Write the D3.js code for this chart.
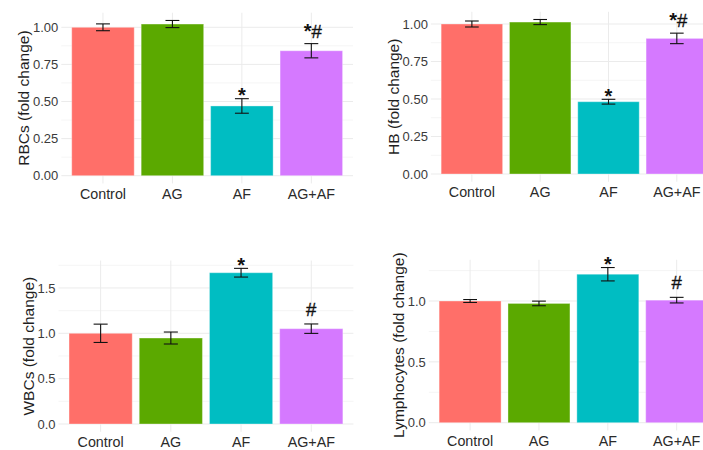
<!DOCTYPE html>
<html>
<head>
<meta charset="utf-8">
<script src="https://cdn.jsdelivr.net/npm/d3@7"></script>
<style>
  html, body { margin: 0; padding: 0; background: #fff; }
  svg { display: block; }
</style>
</head>
<body>
<svg id="chart" width="703" height="450"></svg>
<script>
// ---- data ----
const categories = ["Control", "AG", "AF", "AG+AF"];
const barColors = ["#FF6F69", "#5BA900", "#00BDC2", "#D579FF"];

const rbcMean = [1.00, 1.022, 0.470, 0.842];
const rbcErr  = [0.023, 0.024, 0.049, 0.048];
const rbcSig  = ["", "", "*", "*#"];
const rbcTicks = [0, 0.25, 0.5, 0.75, 1.0];

const hbMean = [1.00, 1.013, 0.482, 0.904];
const hbErr  = [0.020, 0.017, 0.016, 0.035];
const hbSig  = ["", "", "*", "*#"];
const hbTicks = [0, 0.25, 0.5, 0.75, 1.0];

const wbcMean = [1.00, 0.948, 1.668, 1.051];
const wbcErr  = [0.101, 0.066, 0.048, 0.052];
const wbcSig  = ["", "", "*", "#"];
const wbcTicks = [0, 0.5, 1.0, 1.5];

const lymMean = [1.00, 0.980, 1.220, 1.007];
const lymErr  = [0.012, 0.019, 0.055, 0.023];
const lymSig  = ["", "", "*", "#"];
const lymTicks = [0, 0.5, 1.0];

const panels = [
  { title: "RBCs (fold change)", mean: rbcMean, err: rbcErr, sig: rbcSig, ticks: rbcTicks, fmt: ".2f",
    left: 61.3, right: 353, y0: 175.7, unit: 148.4 },
  { title: "HB (fold change)", mean: hbMean, err: hbErr, sig: hbSig, ticks: hbTicks, fmt: ".2f",
    left: 430.9, right: 717.8, y0: 174, unit: 150 },
  { title: "WBCs (fold change)", mean: wbcMean, err: wbcErr, sig: wbcSig, ticks: wbcTicks, fmt: ".1f",
    left: 58.5, right: 353.4, y0: 424, unit: 90.7 },
  { title: "Lymphocytes (fold change)", mean: lymMean, err: lymErr, sig: lymSig, ticks: lymTicks, fmt: ".1f",
    left: 428.8, right: 718, y0: 422.7, unit: 121.7 }
];

const svg = d3.select("#chart");
const FONT = "'Liberation Sans', Arial, Helvetica, sans-serif";

panels.forEach(p => {
  const g = svg.append("g");
  const hi = d3.max(p.mean.map((m, i) => m + p.err[i]));
  const lo = -0.05 * hi, hiE = 1.05 * hi;
  const bottom = p.y0 - lo * p.unit, top = p.y0 - hiE * p.unit;

  const y = d3.scaleLinear().domain([lo, hiE]).range([bottom, top]);
  const x = d3.scaleBand().domain(categories).range([p.left, p.right])
    .paddingInner(0.1).paddingOuter(0.15);

  // minor gridlines
  const step = p.ticks[1] - p.ticks[0];
  const minor = [];
  for (let v = p.ticks[0] - step / 2; v <= hiE; v += step) if (v >= lo) minor.push(v);
  g.selectAll(".minor").data(minor).join("line")
    .attr("x1", p.left).attr("x2", p.right)
    .attr("y1", d => y(d)).attr("y2", d => y(d))
    .attr("stroke", "#F3F3F3").attr("stroke-width", 0.8);
  // major gridlines
  g.selectAll(".major").data(p.ticks).join("line")
    .attr("x1", p.left).attr("x2", p.right)
    .attr("y1", d => y(d)).attr("y2", d => y(d))
    .attr("stroke", "#EBEBEB").attr("stroke-width", 1);
  g.selectAll(".vmajor").data(categories).join("line")
    .attr("x1", d => x(d) + x.bandwidth() / 2).attr("x2", d => x(d) + x.bandwidth() / 2)
    .attr("y1", top).attr("y2", bottom)
    .attr("stroke", "#EBEBEB").attr("stroke-width", 1);

  // bars
  g.selectAll(".bar").data(categories).join("rect")
    .attr("x", d => x(d)).attr("width", x.bandwidth())
    .attr("y", (d, i) => y(p.mean[i]))
    .attr("height", (d, i) => y(0) - y(p.mean[i]))
    .attr("fill", (d, i) => barColors[i])
    .attr("stroke", "rgba(255,255,255,0.35)").attr("stroke-width", 1);

  // error bars
  const cap = x.step() * 0.1;
  categories.forEach((c, i) => {
    const cx = x(c) + x.bandwidth() / 2;
    const yt = y(p.mean[i] + p.err[i]), yb = y(p.mean[i] - p.err[i]);
    const eg = g.append("g").attr("stroke", "#111").attr("stroke-width", 1.1);
    eg.append("line").attr("x1", cx).attr("x2", cx).attr("y1", yt).attr("y2", yb);
    eg.append("line").attr("x1", cx - cap).attr("x2", cx + cap).attr("y1", yt).attr("y2", yt);
    eg.append("line").attr("x1", cx - cap).attr("x2", cx + cap).attr("y1", yb).attr("y2", yb);
    const s = p.sig[i];
    if (s) {
      const off = s === "*" ? 3.5 : (s === "#" ? -8 : -6);
      const t = g.append("text").attr("x", cx + (s === "*#" ? 1.5 : 0)).attr("y", yt + off)
        .attr("text-anchor", "middle")
        .attr("font-family", FONT).attr("font-size", 17)
        .attr("fill", "#111");
      for (const ch of s) {
        const ts = t.append("tspan").text(ch);
        if (ch === "*") ts.attr("font-size", 20).attr("font-weight", "bold");
        else ts.attr("font-size", 18.5).attr("stroke", "#111").attr("stroke-width", 0.35);
      }
    }
  });

  // y tick labels
  const fmt = d3.format(p.fmt);
  const tg = g.append("g");
  tg.selectAll("text").data(p.ticks).join("text")
    .attr("x", p.left - 3).attr("y", d => y(d)).attr("dy", "0.36em")
    .attr("text-anchor", "end").attr("font-family", FONT).attr("font-size", 13)
    .attr("fill", "#3a3a3a").text(d => fmt(d));
  const tb = tg.node().getBBox();

  // x tick labels
  g.selectAll(".xl").data(categories).join("text")
    .attr("x", d => x(d) + x.bandwidth() / 2).attr("y", bottom + 15.5)
    .attr("text-anchor", "middle").attr("font-family", FONT).attr("font-size", 14.3)
    .attr("fill", "#2a2a2a").text(d => d);

  // y title
  const tx = tb.x - 3.5, ty = (top + bottom) / 2;
  g.append("text").attr("transform", `translate(${tx},${ty}) rotate(-90)`)
    .attr("text-anchor", "middle").attr("font-family", FONT).attr("font-size", 15.5)
    .attr("fill", "#1e1e1e").text(p.title);
});
</script>
</body>
</html>
